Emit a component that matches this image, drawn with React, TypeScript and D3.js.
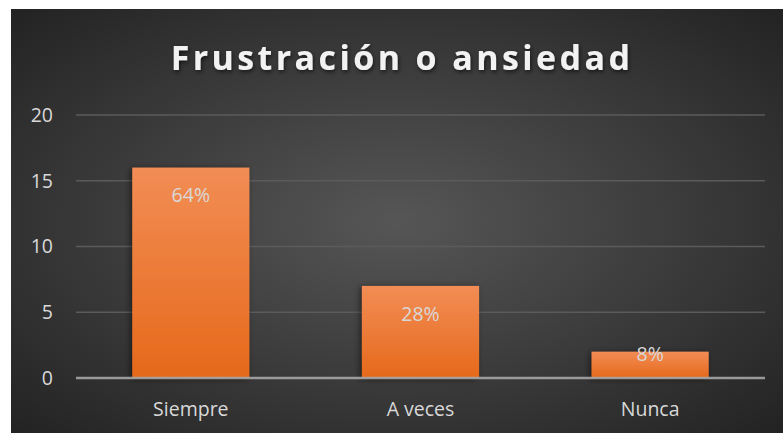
import React, { useEffect, useRef } from "react";
import * as d3 from "d3";

const categories = ["Siempre", "A veces", "Nunca"];
const values = [16, 7, 2];
const percents = ["64%", "28%", "8%"];
const yTicks = [0, 5, 10, 15, 20];
const title = "Frustración o ansiedad";

const W = 783;
const H = 435;

const App = () => {
  const svgRef = useRef<SVGSVGElement>(null);

  useEffect(() => {
    const svg = d3.select(svgRef.current);
    svg.selectAll("*").remove();

    const margin = { top: 115, right: 18, bottom: 57, left: 76 };
    const font = "Open Sans, Noto Sans, sans-serif";

    const defs = svg.append("defs");
    const bg = defs.append("radialGradient").attr("id", "bg")
      .attr("cx", "50%").attr("cy", "50%").attr("r", "70%");
    bg.append("stop").attr("offset", "0%").attr("stop-color", "#565656");
    bg.append("stop").attr("offset", "100%").attr("stop-color", "#232323");

    const barGrad = defs.append("linearGradient").attr("id", "bar")
      .attr("x1", 0).attr("y1", 0).attr("x2", 0).attr("y2", 1);
    barGrad.append("stop").attr("offset", "0%").attr("stop-color", "#f28d55");
    barGrad.append("stop").attr("offset", "100%").attr("stop-color", "#e6691b");

    const shadow = defs.append("filter").attr("id", "shadow")
      .attr("x", "-20%").attr("y", "-20%").attr("width", "140%").attr("height", "140%");
    shadow.append("feDropShadow").attr("dx", -2).attr("dy", 1)
      .attr("stdDeviation", 3).attr("flood-color", "#000").attr("flood-opacity", 0.5);

    const textShadow = defs.append("filter").attr("id", "tshadow");
    textShadow.append("feDropShadow").attr("dx", 1).attr("dy", 2)
      .attr("stdDeviation", 2).attr("flood-color", "#000").attr("flood-opacity", 0.6);

    // fondo
    svg.append("rect")
      .attr("x", 11).attr("y", 9)
      .attr("width", W - 11).attr("height", H - 11)
      .attr("fill", "url(#bg)");

    const x = d3.scaleBand()
      .domain(categories)
      .range([margin.left, W - margin.right])
      .paddingInner(0.49)
      .paddingOuter(0.245);

    const y = d3.scaleLinear()
      .domain([0, 20])
      .range([H - margin.bottom, margin.top]);

    // líneas de cuadrícula
    svg.append("g")
      .selectAll("line")
      .data(yTicks.filter(d => d > 0))
      .join("line")
      .attr("x1", margin.left).attr("x2", W - margin.right)
      .attr("y1", d => y(d)).attr("y2", d => y(d))
      .attr("stroke", "#5b5b5b").attr("stroke-width", 1.5);

    // etiquetas eje Y
    svg.append("g")
      .selectAll("text")
      .data(yTicks)
      .join("text")
      .attr("x", 53)
      .attr("y", d => y(d))
      .attr("dy", "0.35em")
      .attr("text-anchor", "end")
      .attr("fill", "#d9d9d9")
      .attr("font-family", font)
      .attr("font-size", 19.5)
      .text(d => d);

    // barras
    svg.append("g")
      .selectAll("rect")
      .data(values)
      .join("rect")
      .attr("x", (_, i) => x(categories[i])!)
      .attr("y", d => y(d))
      .attr("width", x.bandwidth())
      .attr("height", d => y(0) - y(d))
      .attr("fill", "url(#bar)")
      .attr("filter", "url(#shadow)");

    // eje X
    svg.append("line")
      .attr("x1", margin.left).attr("x2", W - margin.right)
      .attr("y1", y(0)).attr("y2", y(0))
      .attr("stroke", "#a6a6a6").attr("stroke-width", 2.5)
      .attr("opacity", 0.9);

    // etiquetas de porcentaje
    svg.append("g")
      .selectAll("text")
      .data(values)
      .join("text")
      .attr("x", (_, i) => x(categories[i])! + x.bandwidth() / 2)
      .attr("y", d => (y(0) - y(d) > 50 ? y(d) + 28 : y(d) + 2))
      .attr("dy", "0.35em")
      .attr("text-anchor", "middle")
      .attr("fill", "#d9d9d9")
      .attr("font-family", font)
      .attr("font-size", 19.5)
      .text((_, i) => percents[i]);

    // categorías
    svg.append("g")
      .selectAll("text")
      .data(categories)
      .join("text")
      .attr("x", d => x(d)! + x.bandwidth() / 2)
      .attr("y", 409)
      .attr("dy", "0.35em")
      .attr("text-anchor", "middle")
      .attr("fill", "#d9d9d9")
      .attr("font-family", font)
      .attr("font-size", 19.5)
      .text(d => d);

    // título
    svg.append("text")
      .attr("x", 402)
      .attr("y", 70)
      .attr("text-anchor", "middle")
      .attr("fill", "#f2f2f2")
      .attr("font-family", font)
      .attr("font-weight", "bold")
      .attr("font-size", 34)
      .attr("letter-spacing", 3.4)
      .attr("filter", "url(#tshadow)")
      .text(title);
  }, []);

  return (
    <svg
      ref={svgRef}
      width={W}
      height={H}
      style={{ position: "absolute", left: 0, top: 0, display: "block" }}
    />
  );
};

export default App;
